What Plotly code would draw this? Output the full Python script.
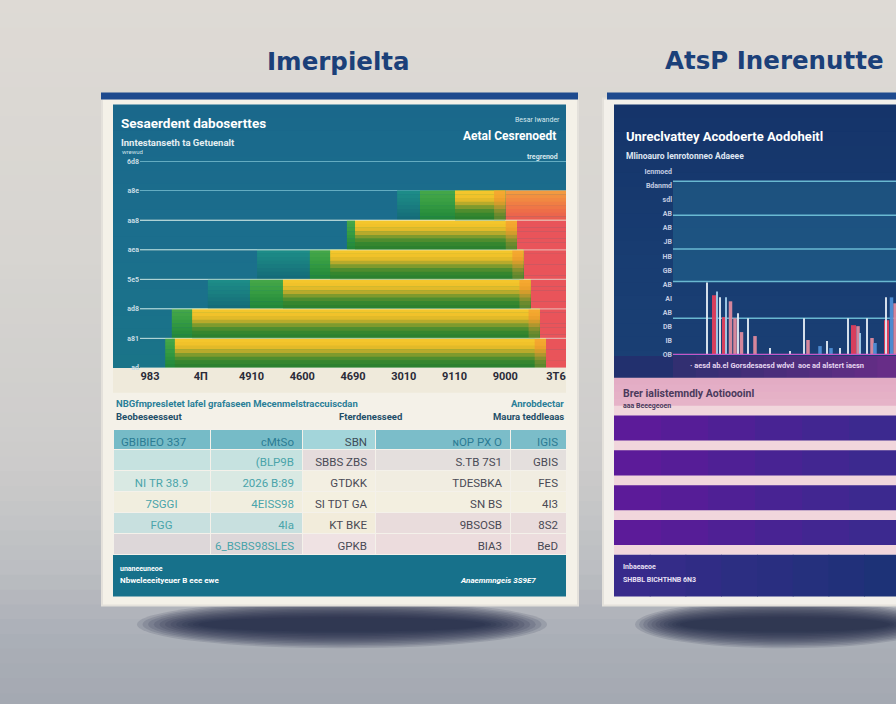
import plotly.graph_objects as go

W, H = 896, 704

# ---------------- DATA ----------------
# Left card: layered horizontal band chart (rows bottom -> top)
area_rows = [0, 1, 2, 3, 4, 5]
teal_start = [None, None, 1.14, 2.11, None, 4.87]
green_start = [0.30, 0.43, 1.97, 3.15, 3.88, 5.32]
yellow_start = [0.49, 0.83, 2.62, 3.55, 4.04, 6.01]
band_end = [7.80, 7.68, 7.50, 7.36, 7.23, 7.00]
red_start = [6.9, 6.9, 6.9, 6.9, 6.9, 6.2]
left_x_ticks = [0, 1, 2, 3, 4, 5, 6, 7, 8]
left_x_labels = ["983", "4Π", "4910", "4600", "4690", "3010", "9110", "9000", "3T6"]
left_y_ticks = [-0.5, 0.5, 1.5, 2.5, 3.5, 4.5, 5.5, 6.5]
left_y_labels = ["ad", "a81", "ad8", "5e5", "aea", "aa8", "a8e", "6d8"]

# Right card: spike bar chart
spike_x = [34, 41.5, 44, 47, 51.5, 53, 57.5, 62, 65, 68.5, 75, 82, 97, 117, 131, 135,
           147, 154, 158, 167, 175, 180.5, 185, 187, 194, 199, 202, 213.5, 213, 218.5, 222]
spike_h = [5.14, 4.23, 4.5, 4.08, 2.68, 4.08, 3.8, 2.6, 2.96, 1.62, 2.6, 1.34, 0.49, 0.28, 2.6, 1.06,
           0.63, 0.99, 0.49, 0.49, 2.6, 2.11, 2.04, 1.55, 2.6, 1.2, 0.85, 2.46, 4.08, 4.08, 3.66]
spike_kind = ["light", "red", "sky", "light", "red", "sky", "pink", "pink", "light", "pink", "light", "pink",
              "light", "light", "light", "pink", "blue", "light", "blue", "light", "light", "red", "pink",
              "sky", "light", "pink", "blue", "red", "light", "blue", "pink"]
right_y_ticks = list(range(14))
right_y_labels = ["OB", "IB", "DB", "AB", "AI", "AB", "GB", "HB", "JB", "AB", "AB", "sdl", "Bdanmd", "Ienmoed"]
right_grid_vals = [2.6, 5.2, 7.5, 9.9, 12.3]

# Right card: striped rows
stripe_rows = [0, 1, 2, 3]
stripe_segments = [1, 1, 1, 1, 1, 1]

# Left card table
table_header = ["GBIBIEO 337", "ϲMtSo", "SBN", "ɴOP PX O", "IGIS"]
table_col1a = ["", "NI TR 38.9", "7SGGI", "FGG", ""]
table_col1b = ["(BLP9B", "2026 B:89", "4EISS98", "4Ia", "6_BSBS98SLES"]
table_col2 = ["SBBS ZBS", "GTDKK", "SI TDT GA", "KT BKE", "GPKB"]
table_col3a = ["S.TB 7S1", "TDESBKA", "SN BS", "9BSOSB", "BIA3"]
table_col3b = ["GBIS", "FES", "4I3", "8S2", "BeD"]


# ---------------- HELPERS ----------------
def px(x):
    return x / W


def py(y):
    return 1 - y / H


def hx(h):
    h = h.lstrip('#')
    return tuple(int(h[i:i + 2], 16) for i in (0, 2, 4))


def lerp(c0, c1, t):
    return tuple(int(round(a + (b - a) * t)) for a, b in zip(c0, c1))


def rgb(c):
    return "rgb(%d,%d,%d)" % c


def nb(s):
    return s.replace(" ", "\u00a0")


shapes = []


def rect(x0, y0, x1, y1, color, layer="below", opacity=1.0):
    shapes.append(dict(type="rect", xref="paper", yref="paper", x0=px(x0), x1=px(x1),
                       y0=py(y1), y1=py(y0), fillcolor=color, line=dict(width=0),
                       layer=layer, opacity=opacity))


def vgrad(x0, y0, x1, y1, stops, n):
    step = (y1 - y0) / n
    for i in range(n):
        t = (i + 0.5) / n
        c = hx(stops[-1][1])
        for j in range(len(stops) - 1):
            if stops[j][0] <= t <= stops[j + 1][0]:
                tt = (t - stops[j][0]) / (stops[j + 1][0] - stops[j][0])
                c = lerp(hx(stops[j][1]), hx(stops[j + 1][1]), tt)
                break
        rect(x0, y0 + i * step, x1, y0 + (i + 1) * step + 0.8, rgb(c))


def hgrad(x0, y0, x1, y1, c0, c1, n):
    step = (x1 - x0) / n
    for i in range(n):
        c = lerp(hx(c0), hx(c1), (i + 0.5) / n)
        rect(x0 + i * step, y0, x0 + (i + 1) * step + 0.8, y1, rgb(c))


def ellipse(x0, y0, x1, y1, color, opacity):
    shapes.append(dict(type="circle", xref="paper", yref="paper", x0=px(x0), x1=px(x1),
                       y0=py(y1), y1=py(y0), fillcolor=color, line=dict(width=0),
                       layer="below", opacity=opacity))


def soft_shadow(cx, cy, rx, ry):
    n = 12
    for i in range(n):
        t = i / (n - 1)
        ax = rx * (1.0 - 0.3 * t)
        ay = ry * (1.0 - 0.7 * t)
        ellipse(cx - ax, cy - ay, cx + ax, cy + ay, "#1b2140", 0.13)


annotations = []
SANS = "Roboto, Liberation Sans, DejaVu Sans, sans-serif"


def ann(text, x, y, size, color, anchor="left", bold=False, family=SANS, italic=False):
    t = text
    if italic:
        t = "<i>" + t + "</i>"
    annotations.append(dict(text=t, x=px(x), y=py(y), xref="paper", yref="paper",
                            xanchor=anchor, yanchor="middle", showarrow=False,
                            font=dict(size=size, color=color, family=family,
                                      weight=700 if bold else 400)))


# ---------------- BACKGROUND ----------------
vgrad(0, -2, W, 712, [(0, "#dedad5"), (0.35, "#d7d5d1"), (0.65, "#cdcccb"),
                      (0.8, "#bcbec2"), (0.9, "#abafb7"), (1.0, "#a3a8b1")], 48)
soft_shadow(342, 628, 205, 24)
soft_shadow(785, 628, 150, 24)

# ---------------- LEFT CARD ----------------
rect(101, 98, 579, 610, "#e4e1db")
rect(103, 100, 577, 608, "#f4f1e8")
rect(101, 93, 578, 100, "#1e4a8e")
vgrad(113, 105, 566, 370, [(0, "#1a688b"), (0.5, "#1b6e8d"), (1.0, "#1a7488")], 20)
rect(113, 370, 566, 395, "#efeadb")
rect(113, 558, 566, 600, "#17718b")

# ---------------- RIGHT CARD ----------------
rect(602, 98, 900, 610, "#e4e1db")
rect(604, 100, 900, 608, "#f3f0ea")
rect(607, 93, 900, 100, "#1e4a8e")
vgrad(614, 105, 900, 380, [(0, "#15346a"), (0.6, "#183d72"), (1.0, "#1a3f74")], 20)
hgrad(673, 358, 900, 380, "#2f2f70", "#6a2d88", 10)
rect(614, 358, 673, 380, "#22306e")
vgrad(614, 380, 900, 408, [(0, "#e3abc4"), (1, "#e6b4c8")], 4)
rect(614, 408, 900, 558, "#f1d6dc")
hgrad(614, 558, 900, 600, "#3a2a8c", "#1b3276", 8)

# right chart upper teal band
shapes.append(dict(type="rect", xref="x2 domain", yref="y2", x0=0, x1=1.2, y0=5.2, y1=12.3,
                   fillcolor="rgba(40,130,160,0.35)", line=dict(width=0), layer="below"))
for v in right_grid_vals:
    shapes.append(dict(type="line", xref="x2 domain", yref="y2", x0=0, x1=1.2, y0=v, y1=v,
                       line=dict(color="rgba(120,205,225,0.85)", width=1.5), layer="below"))
shapes.append(dict(type="line", xref="x2 domain", yref="y2", x0=0, x1=1.2, y0=0, y1=0,
                   line=dict(color="#c557c8", width=2.5), layer="above"))

# left chart gridlines on top of bands (faint)
for v in left_y_ticks[:-2]:
    shapes.append(dict(type="line", xref="x domain", yref="y", x0=0, x1=1, y0=v, y1=v,
                       line=dict(color="rgba(235,242,230,0.55)", width=1.3), layer="above"))

# ---------------- LEFT CHART TRACES ----------------
NSUB = 8
palettes = {
    "teal": ["#1d8c88", "#1c8885", "#1b8483", "#1a8081", "#197b7f", "#18767d", "#16717b", "#156c79"],
    "green": ["#44a648", "#40a346", "#3ba044", "#369c42", "#319740", "#2c923e", "#278d3c", "#23883b"],
    "yellow": ["#f4c62c", "#f1c22a", "#e2ba29", "#b8aa2b", "#7e9a2d", "#4f8d2e", "#35862e", "#2c812e"],
    "cap": ["#f5a830", "#f3a52e", "#eca02c", "#d49c2c", "#b0962e", "#88902e", "#6c8a2e", "#5e872e"],
}
red_pal = ["#e9545a"] * NSUB
top_red = ["#f39a40", "#f29040", "#f18842", "#f07e44", "#ef7646", "#ee6e48", "#ec664c", "#ea5e50"]

fig = go.Figure()


def layer(name, starts, ends, pal, override=None):
    ys, bases, lens, cols = [], [], [], []
    for i, r in enumerate(area_rows):
        s = starts[i]
        e = ends[i]
        if s is None or e <= s:
            continue
        for k in range(NSUB):
            ys.append(r + 0.5 - (k + 0.5) / NSUB)
            bases.append(s)
            lens.append(e - s)
            c = pal[k]
            if override and i in override:
                c = override[i][k]
            cols.append(c)
    fig.add_trace(go.Bar(orientation="h", y=ys, x=lens, base=bases, width=1.0 / NSUB + 0.01,
                         marker=dict(color=cols, line=dict(width=0)), name=name,
                         xaxis="x", yaxis="y", hoverinfo="skip"))


layer("red", red_start, [8.3] * 6, red_pal, {5: top_red})
layer("teal", teal_start, band_end, palettes["teal"])
layer("green", green_start, band_end, palettes["green"])
layer("yellow", yellow_start, band_end, palettes["yellow"])
layer("cap", [e - 0.22 for e in band_end], band_end, palettes["cap"])

# ---------------- RIGHT CHART TRACES ----------------
kind_style = {
    "red": ("#e2405c", 5),
    "pink": ("#e08a9e", 3.5),
    "blue": ("#4f8fd6", 3.5),
    "sky": ("#9fcbe8", 1.8),
    "light": ("#dfe8f2", 1.5),
}
for kind in ["red", "pink", "blue", "sky", "light"]:
    xs = [x for x, k in zip(spike_x, spike_kind) if k == kind]
    hs = [h for h, k in zip(spike_h, spike_kind) if k == kind]
    col, wd = kind_style[kind]
    fig.add_trace(go.Bar(x=xs, y=hs, width=[wd] * len(xs), marker=dict(color=col, line=dict(width=0)),
                         xaxis="x2", yaxis="y2", name=kind, hoverinfo="skip", opacity=0.95))

# ---------------- STRIPES ----------------
seg_cols = ["#5c1b99", "#561d97", "#4f2095", "#482393", "#422691", "#3c298f"]
for k, seg in enumerate(stripe_segments):
    fig.add_trace(go.Bar(orientation="h", y=stripe_rows, x=[seg] * len(stripe_rows),
                         base=[sum(stripe_segments[:k])] * len(stripe_rows), width=0.72,
                         marker=dict(color=seg_cols[k], line=dict(width=0)),
                         xaxis="x3", yaxis="y3", hoverinfo="skip"))

# ---------------- TABLE ----------------
f1 = ["#c6e2e0", "#d9e9e3", "#f1eedf", "#c8e0df", "#ddd7d9"]
f2 = ["#e5dcdc", "#f3efe2", "#f4f0e0", "#f2ecdb", "#efe2e3"]
f3 = ["#e4dfdd", "#f1ede1", "#f3efe0", "#e9dcdc", "#ecdcdd"]
cols_vals = [[nb(v) for v in c] for c in [table_col1a, table_col1b, table_col2, table_col3a, table_col3b]]
fig.add_trace(go.Table(
    domain=dict(x=[px(113), px(566)], y=[py(560), py(432)]),
    columnwidth=[97, 92, 73, 135, 56],
    header=dict(values=[nb(v) for v in table_header],
                fill=dict(color=["#76bbc7", "#76bbc7", "#a3d5da", "#7bbdc9", "#7bbdc9"]),
                align=["left", "right", "right", "right", "right"],
                font=dict(size=11.5, color=["#2b7b93", "#2b7b93", "#3d4d58", "#2b7b93", "#2b7b93"],
                          family=SANS),
                height=20, line=dict(color="#f4f1ea", width=1)),
    cells=dict(values=cols_vals,
               fill=dict(color=[f1, f1, f2, f3, f3]),
               align=["center", "right", "right", "right", "right"],
               font=dict(size=11.5, color=["#4aa4aa", "#4aa4aa", "#4a4a55", "#4a4a55", "#4a4a55"],
                         family=SANS),
               height=21, line=dict(color="#f4f1ea", width=1))))

# ---------------- TEXT ----------------
TITLE = "DejaVu Sans, Verdana, sans-serif"
ann("Imerpielta", 338, 62, 24.5, "#1b4079", "center", True, TITLE)
ann("AtsP Inerenutte", 663, 61, 24.5, "#1b4079", "left", True, TITLE)

ann("Sesaerdent daboserttes", 119, 124, 13.5, "#ffffff", bold=True)
ann("Inntestanseth ta Getuenalt", 119, 143, 9.5, "#e4eef2", bold=True)
ann("wrewud", 120, 152, 6, "#cfe3ea")
ann("Besar Iwander", 562, 121, 7, "#d8e8ee", "right")
ann("Aetal Cesrenoedt", 558, 137, 12, "#ffffff", "right", True)
ann("tregrenod", 560, 158, 7, "#d8e8ee", "right", True)

ann("NBGfmpresletet lafel grafaseen Mecenmelstraccuiscdan", 114, 406, 9.5, "#2a7f98", bold=True)
ann("Anrobdectar", 566, 406, 9.5, "#2a7f98", "right", True)
ann("Beobeseesseut", 114, 419, 9.5, "#1f4f68", bold=True)
ann("Fterdenesseed", 370, 419, 9.5, "#1f4f68", "center", True)
ann("Maura teddleaas", 566, 419, 9.5, "#1f4f68", "right", True)

ann("unaneeuneoe", 118, 572, 7, "#ffffff", bold=True)
ann("Nbweleeeityeuer B eee ewe", 118, 584, 8, "#ffffff", bold=True)
ann("Anaemmngeis 3S9E7", 538, 584, 8, "#ffffff", "right", True, italic=True)

ann("Unreclvattey Acodoerte Aodoheitl", 624, 137, 13, "#ffffff", bold=True)
ann("Mlinoauro Ienrotonneo Adaeee", 624, 157, 8.5, "#dfe6f2", bold=True)
ann("· aesd ab.el Gorsdesaesd wdvd  aoe ad alstert iaesn", 688, 368, 7.5, "#e6d6f0", bold=True)
ann("Brer ialistemndly Aotioooinl", 621, 396, 10.5, "#4b3a5c", bold=True)
ann("aaa Beeegeoen", 621, 408, 7, "#4b3a5c", bold=True)
ann("Inbaeaeoe", 621, 570, 7, "#e8e0f4", bold=True)
ann("SHBBL BICHTHNB 6N3", 621, 583, 7, "#e8e0f4", bold=True)

# ---------------- LAYOUT ----------------
fig.update_layout(
    width=W, height=H, margin=dict(l=0, r=0, t=0, b=0),
    paper_bgcolor="#d8d6d2", plot_bgcolor="rgba(0,0,0,0)",
    barmode="overlay", showlegend=False, hovermode=False,
    shapes=shapes, annotations=annotations,
    xaxis=dict(domain=[px(140), px(566)], range=[-0.197, 8.197], tickmode="array",
               tickvals=left_x_ticks, ticktext=left_x_labels, showgrid=False, zeroline=False,
               ticks="", tickfont=dict(size=11, color="#2a2a38", family=SANS, weight=700),
               fixedrange=True),
    yaxis=dict(domain=[py(370), py(155)], range=[-0.5, 6.74], tickmode="array",
               tickvals=left_y_ticks, ticktext=left_y_labels, showgrid=True,
               gridcolor="rgba(150,215,228,0.6)", gridwidth=1, zeroline=False, ticks="",
               tickfont=dict(size=7, color="#c8dde6", family=SANS, weight=700), fixedrange=True),
    xaxis2=dict(domain=[px(673), 1], range=[0, 223], visible=False, fixedrange=True),
    yaxis2=dict(domain=[py(357), py(165)], range=[0, 13.52], anchor="x2", tickmode="array",
                tickvals=right_y_ticks, ticktext=right_y_labels, showgrid=False, zeroline=False,
                ticks="", tickfont=dict(size=7, color="#c4cce2", family=SANS, weight=700),
                fixedrange=True),
    xaxis3=dict(domain=[px(614), 1], range=[0, 6], visible=False, fixedrange=True),
    yaxis3=dict(domain=[py(558), py(408)], range=[3.643, -0.643], anchor="x3", visible=False,
                fixedrange=True),
)

fig.write_html("out.html")
